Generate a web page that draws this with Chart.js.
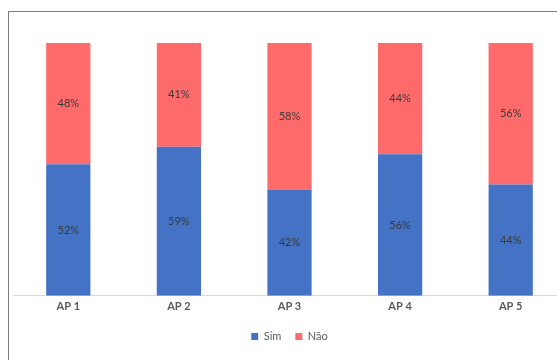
<!DOCTYPE html>
<html>
<head>
<meta charset="utf-8">
<script src="https://cdn.jsdelivr.net/npm/chart.js@4"></script>
<style>
  html, body { margin: 0; padding: 0; background: #fff; overflow: hidden; }
  #frame {
    position: absolute; left: 8px; top: 11px;
    width: 600px; height: 400px;
    border: 1.5px solid #7a7a7a; box-sizing: border-box;
  }
  #wrap { position: absolute; left: 0; top: 0; width: 584px; height: 360px; }
</style>
</head>
<body>
<div id="frame"></div>
<div id="wrap"><canvas id="apChart"></canvas></div>
<script>
// Respostas Sim / Não por AP (em %)
const categorias = ["AP 1", "AP 2", "AP 3", "AP 4", "AP 5"];
const valoresSim = [52, 59, 42, 56, 44];
const valoresNao = [48, 41, 58, 44, 56];

const fonte = "Lato, 'Open Sans', sans-serif";

// rótulos de percentagem no meio de cada segmento
const rotulosPlugin = {
  id: "rotulosPct",
  afterDatasetsDraw: chart => {
    const ctx = chart.ctx;
    ctx.save();
    ctx.font = "11px " + fonte;
    ctx.fillStyle = "#3a3a3a";
    ctx.textAlign = "center";
    ctx.textBaseline = "middle";
    chart.data.datasets.forEach((ds, i) => {
      chart.getDatasetMeta(i).data.forEach((bar, j) => {
        const y = (bar.y + bar.base) / 2;
        ctx.fillText(ds.data[j] + "%", bar.x, y);
      });
    });
    ctx.restore();
  }
};

const ctx = document.getElementById("apChart").getContext("2d");
new Chart(ctx, {
  type: "bar",
  data: {
    labels: categorias,
    datasets: [
      { label: "Sim", data: valoresSim, backgroundColor: "#4472C4", barPercentage: 0.4, categoryPercentage: 1 },
      { label: "Não", data: valoresNao, backgroundColor: "#FF6B6B", barPercentage: 0.4, categoryPercentage: 1 }
    ]
  },
  options: {
    responsive: true,
    maintainAspectRatio: false,
    animation: false,
    layout: { padding: { left: 13, right: 18, top: 43, bottom: 8 } },
    scales: {
      x: {
        stacked: true,
        grid: { display: false, drawTicks: false },
        border: { display: true, color: "#D9D9D9", width: 1 },
        ticks: { color: "#595959", padding: 4, font: { family: fonte, size: 11, weight: "bold" } }
      },
      y: {
        stacked: true,
        display: false,
        min: 0,
        max: 100
      }
    },
    plugins: {
      legend: {
        position: "bottom",
        labels: {
          boxWidth: 7, boxHeight: 7, padding: 14,
          color: "#595959",
          font: { family: fonte, size: 11 }
        }
      },
      tooltip: { enabled: false }
    }
  },
  plugins: [rotulosPlugin]
});
</script>
</body>
</html>
